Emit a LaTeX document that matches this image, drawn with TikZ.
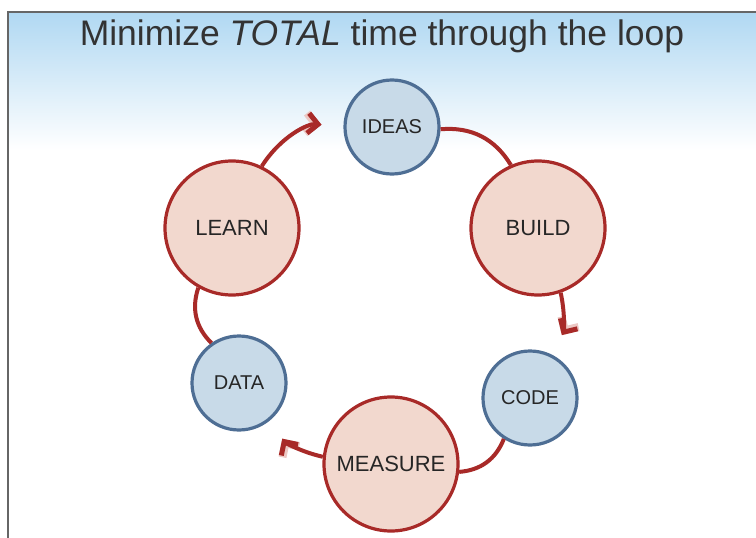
\documentclass[tikz,border=0pt]{standalone}
\usepackage{fontspec}
\setmainfont{Liberation Sans}
\usetikzlibrary{arrows.meta}

\definecolor{loopred}{RGB}{168,42,40}
\definecolor{redfill}{RGB}{242,216,206}
\definecolor{blueline}{RGB}{78,110,148}
\definecolor{bluefill}{RGB}{200,218,232}
\definecolor{skytop}{RGB}{176,216,242}
\definecolor{halo}{RGB}{236,200,196}

\begin{document}
\begin{tikzpicture}[x=1pt, y=-1pt,
  bigstep/.style={circle, draw=loopred, fill=redfill, line width=3.2pt,
    minimum size=134pt, inner sep=0pt, font=\fontsize{22}{22}\selectfont, text=black!85},
  smallstep/.style={circle, draw=blueline, fill=bluefill, line width=3.2pt,
    minimum size=94pt, inner sep=0pt, font=\fontsize{20}{20}\selectfont, text=black!85},
  link/.style={draw=loopred, line width=4pt, bend left=32},
  arrowlink/.style={link, shorten >=22pt,
    preaction={draw=halo, -{Straight Barb[length=10pt, width=20pt, line width=8pt]}},
    -{Straight Barb[length=10pt, width=20pt, line width=5pt]}}]

\useasboundingbox (0,0) rectangle (756,538);

% background
\fill[white] (8,12) rectangle (756,538);
\shade[top color=skytop, bottom color=white] (8,12) rectangle (756,150);
\draw[black!60, line width=1.5pt] (8,538) -- (8,12) -- (756,12);

% title
\node (title) at (382,36) {\fontsize{35.5}{35.5}\selectfont\color{black!80}Minimize \textit{TOTAL} time through the loop};

% steps of the loop
\node[smallstep] (ideas)   at (392,127) {IDEAS};
\node[bigstep]   (build)   at (538,228) {BUILD};
\node[smallstep] (code)    at (530,398) {CODE};
\node[bigstep]   (measure) at (391,464) {MEASURE};
\node[smallstep] (data)    at (239,383) {DATA};
\node[bigstep]   (learn)   at (232,228) {LEARN};

% connectors
\draw[link]      (ideas)   to (build);
\draw[arrowlink, bend left=22] (build)   to (code);
\draw[link]      (code)    to (measure);
\draw[arrowlink, bend left=22] (measure) to (data);
\draw[link]      (data)    to (learn);
\draw[arrowlink] (learn)   to (ideas);

\end{tikzpicture}
\end{document}
